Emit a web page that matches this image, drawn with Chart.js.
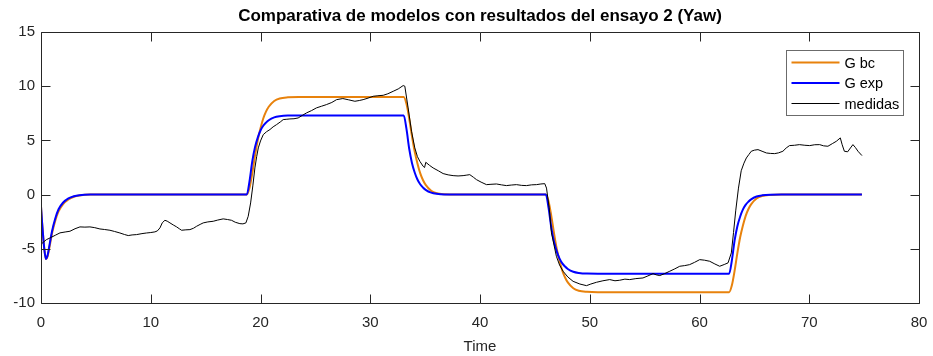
<!DOCTYPE html>
<html>
<head>
<meta charset="utf-8">
<script src="https://cdn.jsdelivr.net/npm/chart.js@4/dist/chart.umd.min.js"></script>
<style>
  body { margin: 0; background: #fff; }
  #grafico { display: block; }
</style>
</head>
<body>
<canvas id="grafico" width="933" height="356"></canvas>
<script>
// tiempos de los modelos (s)
const tiempo_modelo = [
    0, 0.1, 0.2, 0.3, 0.45, 0.6, 0.8, 1.0, 1.3, 1.6, 2.0, 2.5, 3.0, 3.5, 4.5,
    18.75, 19.0, 19.25, 19.5, 19.75, 20.0, 20.25, 20.5, 20.75, 21.25, 21.75, 22.5, 23.5,
    33.05, 33.3, 33.55, 33.8, 34.05, 34.3, 34.55, 34.8, 35.05, 35.55, 36.05, 36.8, 37.8,
    46.0, 46.25, 46.5, 46.75, 47.0, 47.25, 47.5, 47.75, 48.0, 48.5, 49.0, 49.75, 50.75,
    62.7, 62.95, 63.2, 63.45, 63.7, 63.95, 64.2, 64.45, 64.7, 65.2, 65.7, 66.45, 67.45,
    74.8
];

const g_bc = [
    -1.1, -2.6, -3.9, -5.0, -5.95, -5.7, -4.7, -3.6, -2.4, -1.55, -0.9, -0.45, -0.2, -0.08, 0,
    0, 0.63, 1.98, 3.6, 5.04, 6.12, 7.02, 7.65, 8.1, 8.64, 8.87, 8.97, 9.0,
    9.0, 8.37, 7.02, 5.4, 3.96, 2.88, 1.98, 1.35, 0.9, 0.36, 0.13, 0.03, 0,
    0, -0.63, -1.98, -3.6, -5.04, -6.12, -7.02, -7.65, -8.1, -8.64, -8.87, -8.97, -9.0,
    -9.0, -8.37, -7.02, -5.4, -3.96, -2.88, -1.98, -1.35, -0.9, -0.36, -0.13, -0.03, 0,
    0
];

const g_exp = [
    -1.1, -2.6, -3.9, -5.0, -5.93, -5.6, -4.5, -3.4, -2.2, -1.35, -0.75, -0.35, -0.15, -0.05, 0,
    0, 1.24, 3.07, 4.38, 5.26, 5.91, 6.35, 6.64, 6.86, 7.12, 7.23, 7.29, 7.3,
    7.3, 6.06, 4.23, 2.92, 2.04, 1.39, 0.95, 0.66, 0.44, 0.18, 0.07, 0.01, 0,
    0, -1.24, -3.07, -4.38, -5.26, -5.91, -6.35, -6.64, -6.86, -7.12, -7.23, -7.29, -7.3,
    -7.3, -6.06, -4.23, -2.92, -2.04, -1.39, -0.95, -0.66, -0.44, -0.18, -0.07, -0.01, 0,
    0
];

// medidas del ensayo 2
const tiempo_medidas = [
    0, 0.2, 0.5, 0.82, 1.3, 1.73, 2.2, 2.64, 3.1, 3.55, 4.0, 4.46, 4.9, 5.37, 5.8, 6.28, 6.7, 7.19,
    7.6, 7.95, 8.3, 8.71, 9.2, 9.62, 10.0, 10.38, 10.6, 10.84, 11.05, 11.29, 11.5, 11.75, 12.05,
    12.36, 12.6, 12.81, 13.2, 13.57, 13.9, 14.18, 14.5, 14.78, 15.2, 15.69, 16.1, 16.6, 17.0,
    17.36, 17.7, 18.12, 18.4, 18.67, 18.88, 19.1, 19.3, 19.49, 19.65, 19.8, 20.0, 20.25, 20.55,
    20.86, 21.15, 21.47, 21.8, 22.07, 22.4, 22.68, 23.05, 23.43, 23.8, 24.2, 24.65, 25.1, 25.55,
    26.0, 26.5, 26.93, 27.5, 28.0, 28.6, 29.0, 29.35, 29.8, 30.27, 30.7, 31.18, 31.6, 32.09,
    32.55, 33.0, 33.15, 33.45, 33.76, 34.06, 34.3, 34.52, 34.82, 34.95, 35.06, 35.4, 35.73,
    36.2, 36.64, 37.1, 37.55, 38.0, 38.46, 38.8, 39.07, 39.4, 39.68, 40.1, 40.59, 41.0, 41.5,
    41.95, 42.41, 42.85, 43.32, 43.8, 44.23, 44.7, 45.15, 45.55, 45.9, 46.06, 46.3, 46.51,
    46.96, 47.25, 47.57, 48.0, 48.48, 49.1, 49.7, 50.1, 50.61, 51.2, 51.82, 52.3, 52.73, 53.2,
    53.64, 54.2, 54.85, 55.3, 55.77, 56.05, 56.38, 56.8, 57.29, 57.75, 58.2, 58.65, 59.1,
    59.55, 60.02, 60.45, 60.93, 61.4, 61.84, 62.25, 62.6, 62.9, 63.1, 63.3, 63.55, 63.8,
    64.05, 64.27, 64.5, 64.72, 65.0, 65.33, 65.7, 66.1, 66.45, 66.85, 67.2, 67.6, 67.9, 68.2,
    68.65, 69.1, 69.6, 70.04, 70.5, 70.95, 71.3, 71.7, 72.1, 72.47, 72.83, 73.0, 73.2, 73.5,
    73.75, 73.98, 74.2, 74.44, 74.8
];

const medidas = [
    -4.6, -4.4, -4.15, -4.0, -3.75, -3.53, -3.45, -3.38, -3.15, -2.98, -3.0, -2.98, -3.05, -3.17, -3.22, -3.29, -3.4, -3.54,
    -3.68, -3.78, -3.72, -3.69, -3.6, -3.54, -3.5, -3.44, -3.35, -3.07, -2.6, -2.37, -2.45, -2.61, -2.8,
    -2.98, -3.15, -3.29, -3.25, -3.23, -3.1, -2.92, -2.75, -2.61, -2.52, -2.46, -2.35, -2.24, -2.3,
    -2.37, -2.55, -2.68, -2.7, -2.61, -2.0, -0.77, 0.8, 2.46, 3.5, 4.31, 4.95, 5.53, 5.8,
    6.0, 6.25, 6.46, 6.7, 6.92, 6.95, 6.98, 7.0, 7.07, 7.3, 7.54, 7.75, 8.0, 8.15,
    8.3, 8.5, 8.76, 8.86, 8.75, 8.61, 8.68, 8.76, 8.9, 9.07, 9.12, 9.16, 9.3, 9.53,
    9.75, 10.06, 10.0, 8.0, 5.84, 4.31, 3.5, 3.07, 2.61, 2.5, 2.98, 2.7, 2.46,
    2.2, 1.94, 1.82, 1.75, 1.72, 1.75, 1.8, 1.84, 1.6, 1.38, 1.15, 0.92, 0.95, 0.98,
    0.9, 0.83, 0.88, 0.92, 0.85, 0.83, 0.9, 0.92, 0.98, 1.01, 0.6, -1.2, -3.53,
    -5.69, -6.5, -7.07, -7.6, -8.0, -8.25, -8.4, -8.25, -8.09, -7.95, -7.84, -7.95, -7.9, -7.8,
    -7.84, -7.75, -7.69, -7.5, -7.29, -7.4, -7.47, -7.3, -7.07, -6.85, -6.61, -6.55, -6.46,
    -6.25, -6.0, -6.05, -6.15, -6.4, -6.61, -6.45, -6.3, -5.38, -3.5, -1.5, 0.6, 2.2,
    2.9, 3.38, 3.7, 4.0, 4.1, 4.15, 4.0, 3.84, 3.8, 3.78, 3.85, 4.0, 4.3, 4.52,
    4.55, 4.61, 4.55, 4.52, 4.6, 4.61, 4.5, 4.46, 4.7, 4.92, 5.23, 4.6, 4.0, 3.95,
    4.3, 4.61, 4.35, 4.0, 3.6
];

const ticks_x = [0, 10, 20, 30, 40, 50, 60, 70, 80];
const ticks_y = [-10, -5, 0, 5, 10, 15];

const fuente = "'Liberation Sans', Arial, Helvetica, sans-serif";
const gris = '#262626';

function pares(t, v) {
    return t.map((x, i) => ({ x: x, y: v[i] }));
}

// marco con marcas hacia dentro (estilo MATLAB)
const marco = {
    id: 'marco',
    afterDatasetsDraw(chart) {
        const { ctx, chartArea: a, scales } = chart;
        const L = Math.round(a.left) + 0.5, R = Math.round(a.right) + 0.5;
        const T = Math.round(a.top) + 0.5, B = Math.round(a.bottom) + 0.5;
        ctx.save();
        ctx.strokeStyle = gris;
        ctx.lineWidth = 1;
        ctx.beginPath();
        ctx.rect(L, T, R - L, B - T);
        ticks_x.forEach(v => {
            const px = Math.round(scales.x.getPixelForValue(v)) + 0.5;
            ctx.moveTo(px, B); ctx.lineTo(px, B - 9);
            ctx.moveTo(px, T); ctx.lineTo(px, T + 9);
        });
        ticks_y.forEach(v => {
            const py = Math.round(scales.y.getPixelForValue(v)) + 0.5;
            ctx.moveTo(L, py); ctx.lineTo(L + 9, py);
            ctx.moveTo(R, py); ctx.lineTo(R - 9, py);
        });
        ctx.stroke();
        ctx.restore();
    }
};

// leyenda dentro del área, arriba a la derecha
const leyenda = {
    id: 'leyenda',
    afterDraw(chart) {
        const { ctx, chartArea: a } = chart;
        const x0 = Math.round(a.right) - 132.5, y0 = Math.round(a.top) + 18.5;
        const w = 117, h = 65;
        ctx.save();
        ctx.fillStyle = '#fff';
        ctx.fillRect(x0, y0, w, h);
        ctx.strokeStyle = '#6b6b6b';
        ctx.lineWidth = 1;
        ctx.strokeRect(x0, y0, w, h);
        ctx.font = '14.5px ' + fuente;
        ctx.textBaseline = 'middle';
        ctx.textAlign = 'left';
        chart.data.datasets.forEach((ds, i) => {
            const yy = y0 + 12 + i * 20.5;
            ctx.strokeStyle = ds.borderColor;
            ctx.lineWidth = ds.borderWidth;
            ctx.beginPath();
            ctx.moveTo(x0 + 5, yy);
            ctx.lineTo(x0 + 53, yy);
            ctx.stroke();
            ctx.fillStyle = '#000';
            ctx.fillText(ds.label, x0 + 58, yy + 1);
        });
        ctx.restore();
    }
};

new Chart(document.getElementById('grafico'), {
    type: 'line',
    data: {
        datasets: [
            {
                label: 'G bc',
                data: pares(tiempo_modelo, g_bc),
                borderColor: '#E8820C',
                borderWidth: 2,
                cubicInterpolationMode: 'monotone',
                pointRadius: 0,
                order: 3
            },
            {
                label: 'G exp',
                data: pares(tiempo_modelo, g_exp),
                borderColor: '#0000FF',
                borderWidth: 2,
                cubicInterpolationMode: 'monotone',
                pointRadius: 0,
                order: 2
            },
            {
                label: 'medidas',
                data: pares(tiempo_medidas, medidas),
                borderColor: '#000000',
                borderWidth: 1,
                tension: 0,
                pointRadius: 0,
                order: 1
            }
        ]
    },
    options: {
        responsive: false,
        animation: false,
        events: [],
        layout: { padding: { left: 0, right: 14, top: 0, bottom: 0 } },
        plugins: {
            legend: { display: false },
            tooltip: { enabled: false },
            title: {
                display: true,
                fullSize: false,
                text: 'Comparativa de modelos con resultados del ensayo 2 (Yaw)',
                color: '#000',
                font: { family: fuente, size: 17, weight: 'bold' },
                padding: { top: 6, bottom: 5.6 }
            }
        },
        scales: {
            x: {
                type: 'linear',
                min: 0,
                max: 80,
                afterFit: s => { s.height = 53; s.paddingLeft = 0; s.paddingRight = 0; },
                afterBuildTicks: s => { s.ticks = ticks_x.map(v => ({ value: v })); },
                grid: { display: false, drawTicks: false, tickLength: 0 },
                border: { display: false },
                ticks: {
                    color: gris,
                    font: { family: fuente, size: 15 },
                    padding: 11,
                    maxRotation: 0
                },
                title: {
                    display: true,
                    text: 'Time',
                    color: gris,
                    font: { family: fuente, size: 15 },
                    padding: { top: 0, bottom: 0 }
                }
            },
            y: {
                type: 'linear',
                min: -10,
                max: 15,
                afterFit: s => { s.width = 41; s.paddingTop = 0; s.paddingBottom = 0; },
                afterBuildTicks: s => { s.ticks = ticks_y.map(v => ({ value: v })); },
                grid: { display: false, drawTicks: false, tickLength: 0 },
                border: { display: false },
                ticks: {
                    color: gris,
                    font: { family: fuente, size: 15 },
                    padding: 6
                }
            }
        }
    },
    plugins: [marco, leyenda]
});
</script>
</body>
</html>
